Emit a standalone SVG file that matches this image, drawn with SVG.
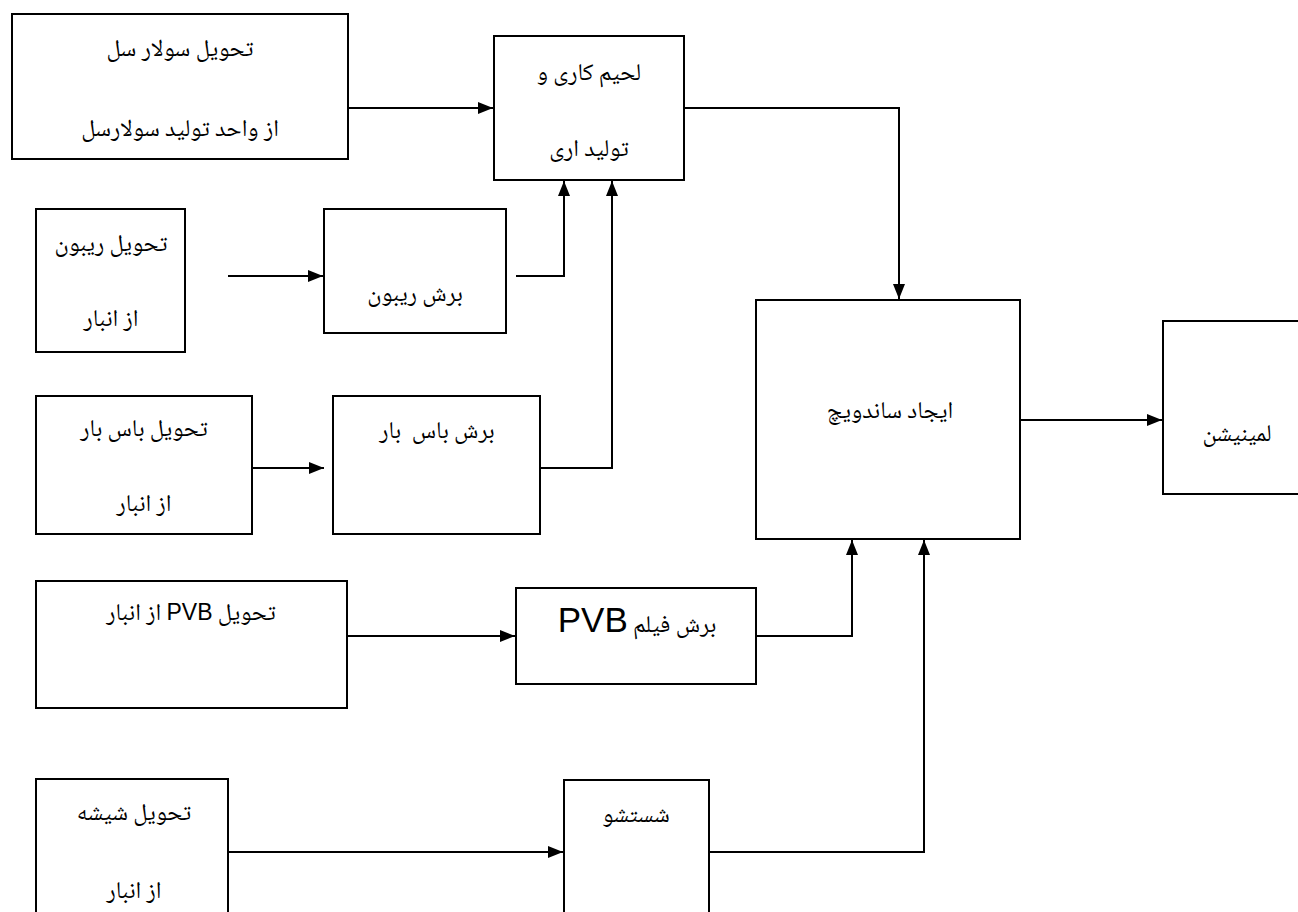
<svg xmlns="http://www.w3.org/2000/svg" width="1298" height="912" viewBox="0 0 1298 912">
<defs>
<marker id="arr" markerUnits="userSpaceOnUse" markerWidth="15" markerHeight="14" viewBox="0 0 15 14" refX="15" refY="7" orient="auto">
<path d="M0,1 L15,7 L0,13 Z" fill="#000"/>
</marker>
<style>
rect{fill:#fff;stroke:#000;stroke-width:2}
.c path{fill:none;stroke:#000;stroke-width:2;marker-end:url(#arr)}
text{font-family:"Noto Naskh Arabic","Noto Serif Arabic","Amiri","Liberation Serif","DejaVu Sans",serif;font-size:24px;fill:#000;text-anchor:middle;direction:rtl}
.lat{font-family:"Liberation Sans",Arial,sans-serif}
</style>
</defs>
<rect x="0" y="0" width="1298" height="912" style="stroke:none"/>
<g id="solar"><rect x="12" y="14" width="336" height="145"/><text x="180" y="56">تحویل سولار سل</text><text x="180" y="136">از واحد تولید سولارسل</text></g>
<g id="solder"><rect x="494" y="36" width="190" height="144"/><text x="589" y="80">لحیم کاری و</text><text x="589" y="156">تولید اری</text></g>
<g id="ribbon"><rect x="36" y="209" width="149" height="143"/><text x="111" y="251">تحویل ریبون</text><text x="111" y="326">از انبار</text></g>
<g id="ribboncut"><rect x="324" y="209" width="182" height="124"/><text x="415" y="301">برش ریبون</text></g>
<g id="busbar"><rect x="36" y="396" width="216" height="138"/><text x="144" y="436">تحویل باس بار</text><text x="144" y="511">از انبار</text></g>
<g id="busbarcut"><rect x="333" y="396" width="207" height="138"/><text x="437" y="438" style="white-space:pre">برش باس  بار</text></g>
<g id="pvb"><rect x="36" y="581" width="311" height="127"/><text x="191" y="620">تحویل  <tspan class="lat" font-size="23">PVB</tspan> از انبار</text></g>
<g id="pvbcut"><rect x="516" y="588" width="240" height="96"/><text x="637" y="632">برش فیلم <tspan class="lat" font-size="35">PVB</tspan></text></g>
<g id="glass"><rect x="36" y="779" width="192" height="140"/><text x="134" y="820">تحویل شیشه</text><text x="134" y="898">از انبار</text></g>
<g id="wash"><rect x="564" y="780" width="145" height="140"/><text x="636" y="822">شستشو</text></g>
<g id="sandwich"><rect x="756" y="300" width="264" height="239"/><text x="890" y="418">ایجاد ساندویچ</text></g>
<g id="lamination"><rect x="1163" y="321" width="150" height="173"/><text x="1237" y="441">لمینیشن</text></g>
<g id="connectors" class="c">
<path d="M348,108 H493"/>
<path d="M684,108 H899 V299"/>
<path d="M228,276 H323"/>
<path d="M516,276 H564 V181"/>
<path d="M252,468 H324"/>
<path d="M540,468 H612 V181"/>
<path d="M347,636 H515"/>
<path d="M756,636 H852 V540"/>
<path d="M228,852 H563"/>
<path d="M709,852 H924 V540"/>
<path d="M1020,420 H1162"/>
</g>
</svg>
